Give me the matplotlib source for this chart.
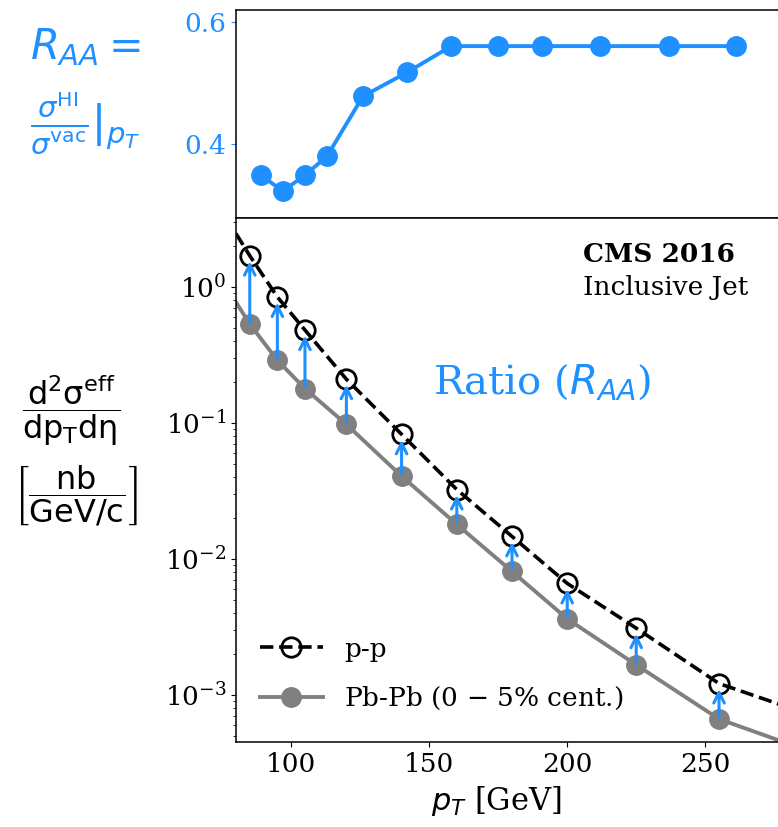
import numpy as np
import matplotlib
matplotlib.use('Agg')
import matplotlib.pyplot as plt

plt.rcParams['font.family'] = 'serif'
plt.rcParams['mathtext.fontset'] = 'dejavusans'

BLUE = '#1e90ff'

# R_AA (top panel)
raa_pt = [89, 97, 105, 113, 126, 142, 158, 175, 191, 212, 237, 261]
raa = [0.349, 0.323, 0.349, 0.380, 0.478, 0.517, 0.560, 0.560, 0.560, 0.560, 0.560, 0.560]

# spectra (bottom panel)
pt = [85, 95, 105, 120, 140, 160, 180, 200, 225, 255]
pp = [1.69, 0.84, 0.48, 0.209, 0.0822, 0.0323, 0.0146, 0.00659, 0.00309, 0.00121]
pbpb = [0.531, 0.288, 0.178, 0.0973, 0.0405, 0.0179, 0.00807, 0.00362, 0.00166, 0.000664]

# curves drawn through the points, extended to the frame edges
pp_curve_pt = [80] + pt + [277]
pp_curve = [2.46] + pp + [0.00085]
pbpb_curve_pt = [80] + pt + [277]
pbpb_curve = [0.77] + pbpb + [0.00046]

fig = plt.figure(figsize=(7.78, 8.27), dpi=100)
ax1 = fig.add_axes([0.3033, 0.7364, 0.7096, 0.2515])
ax2 = fig.add_axes([0.3033, 0.1028, 0.7096, 0.6336], sharex=ax1)

# top
ax1.plot(raa_pt, raa, '-o', color=BLUE, lw=2.8, ms=14)
ax1.set_ylim(0.279, 0.619)
ax1.set_yticks([0.4, 0.6])
ax1.tick_params(axis='y', colors=BLUE, labelsize=19)
ax1.tick_params(axis='x', bottom=False, labelbottom=False)

# bottom
ax2.plot(pp_curve_pt, pp_curve, '--', color='k', lw=2.6)
ax2.plot(pt, pp, 'o', mfc='none', mec='k', mew=2, ms=14)
ax2.plot(pbpb_curve_pt, pbpb_curve, '-', color='grey', lw=2.8)
ax2.plot(pt, pbpb, 'o', color='grey', ms=14)
for x, lo, hi in zip(pt, pbpb, pp):
    ax2.annotate('', xy=(x, hi), xytext=(x, lo),
                 arrowprops=dict(arrowstyle='->', color=BLUE, lw=2.2,
                                 mutation_scale=19, shrinkA=2, shrinkB=4))
# legend proxies
ax2.plot([], [], '--o', color='k', mfc='none', mew=2, ms=14, lw=2.6, label='p-p')
ax2.plot([], [], '-o', color='grey', ms=14, lw=2.8, label='Pb-Pb (0 $-$ 5% cent.)')
ax2.legend(loc='lower left', bbox_to_anchor=(0.0, 0.012), frameon=False,
           fontsize=19, handlelength=2.4, labelspacing=0.88)

ax2.set_yscale('log')
ax2.set_ylim(4.5e-4, 3.2)
ax2.set_xlim(80, 280)
ax2.set_xticks([100, 150, 200, 250])
ax2.tick_params(labelsize=19)
ax2.set_xlabel('$p_T$ [GeV]', fontsize=22)
ax2.xaxis.set_label_coords(0.471, -0.08)

for a in (ax1, ax2):
    for s in a.spines.values():
        s.set_linewidth(1.1)

fig.text(0.749, 0.692, 'CMS 2016', fontsize=19, fontweight='bold', va='center')
fig.text(0.749, 0.652, 'Inclusive Jet', fontsize=19, va='center')
fig.text(0.556, 0.537, 'Ratio ($R_{AA}$)', fontsize=29, color=BLUE, va='center')

fig.text(0.038, 0.943, '$R_{AA} =$', fontsize=30, color=BLUE, va='center')
fig.text(0.038, 0.852, r'$\frac{\sigma^{\rm HI}}{\sigma^{\rm vac}}|_{p_T}$',
         fontsize=30, color=BLUE, va='center')

fig.text(0.0913, 0.503, r'$\dfrac{\mathrm{d^2\sigma^{eff}}}{\mathrm{dp_T d\eta}}$',
         fontsize=23, ha='center', va='center')
fig.text(0.0977, 0.402, r'$\left[\dfrac{\mathrm{nb}}{\mathrm{GeV/c}}\right]$',
         fontsize=23, ha='center', va='center')

fig.savefig('out.png', dpi=100)
